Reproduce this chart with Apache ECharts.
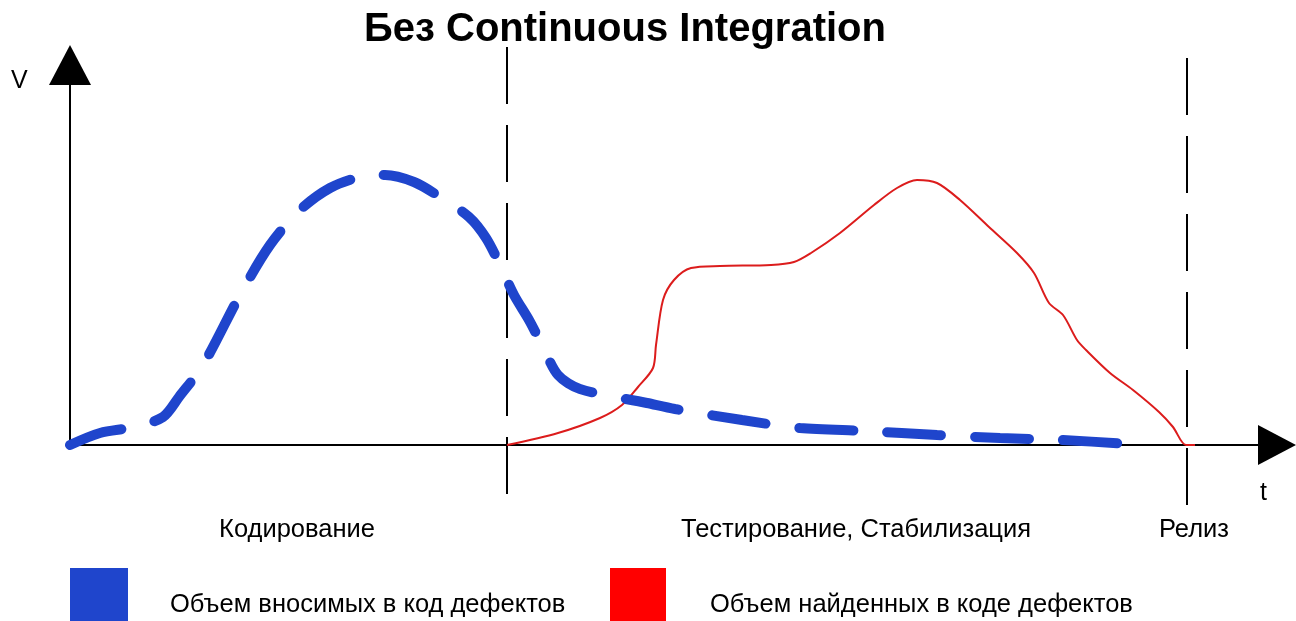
<!DOCTYPE html>
<html lang="ru">
<head>
    <meta charset="UTF-8">
    <title>Без Continuous Integration</title>
    <script src="https://cdn.jsdelivr.net/npm/echarts@6/dist/echarts.min.js"></script>
    <style>
        * { margin: 0; padding: 0; box-sizing: border-box; }
        body { background: #fff; }
        #chart { width: 1296px; height: 621px; }
    </style>
</head>
<body>
    <div id="chart"></div>

    <script>
        // x = время, y = объём (условные единицы)
        const introducedDefects = [
            [0, 0], [30, 12], [64, 18], [93, 28], [109, 48], [133, 80],
            [170, 150], [200, 200], [230, 235], [260, 257], [290, 268], [315, 270],
            [344, 263], [370, 248], [399, 228], [416, 207], [430, 180], [444, 150],
            [459, 125], [473, 98], [488, 70], [510, 56], [577, 42], [605, 36],
            [672, 25], [730, 17], [796, 14], [867, 10], [930, 7], [992, 5], [1060, 1]
        ];
        const foundDefects = [
            [437, 0], [488, 12], [530, 27], [552, 40], [568, 58], [583, 77],
            [586, 100], [593, 145], [604, 165], [621, 177], [650, 179], [701, 180],
            [724, 183], [741, 192], [770, 212], [804, 240], [827, 257], [847, 265],
            [867, 262], [890, 245], [919, 218], [947, 192], [964, 172], [979, 142],
            [993, 130], [1007, 105], [1016, 95], [1040, 72], [1063, 55], [1089, 33],
            [1103, 18], [1116, 0], [1125, 0]
        ];
        const codingEnd = [[437, 398], [437, -50]];
        const releaseLine = [[1117, 387], [1117, -65]];
        const phaseNames = ['Кодирование', 'Тестирование, Стабилизация', 'Релиз'];
        const phaseCenters = [227, 786, 1124];
        const seriesNames = ['Объем вносимых в код дефектов', 'Объем найденных в коде дефектов'];

        const chart = echarts.init(document.getElementById('chart'));

        const phaseData = phaseNames.map(function (name, i) {
            return { value: [phaseCenters[i], -85], name: name };
        });

        const boundaryStyle = { color: '#000', width: 2, type: [57, 21] };
        const font = 'Liberation Sans';

        chart.setOption({
            animation: false,
            title: {
                text: 'Без Continuous Integration',
                left: 364,
                top: 10,
                padding: 0,
                textStyle: {
                    fontFamily: font,
                    fontWeight: 'bold',
                    fontSize: 40,
                    color: '#000'
                }
            },
            grid: { left: 70, right: 19, top: 65, bottom: 176 },
            xAxis: {
                type: 'value',
                min: 0,
                max: 1207,
                axisLine: {
                    lineStyle: { color: '#000', width: 2 },
                    symbol: ['none', 'triangle'],
                    symbolSize: [40, 38]
                },
                axisTick: { show: false },
                axisLabel: { show: false },
                splitLine: { show: false }
            },
            yAxis: {
                type: 'value',
                min: 0,
                max: 380,
                axisLine: {
                    show: true,
                    lineStyle: { color: '#000', width: 2 },
                    symbol: ['none', 'triangle'],
                    symbolSize: [42, 40]
                },
                axisTick: { show: false },
                axisLabel: { show: false },
                splitLine: { show: false }
            },
            legend: [
                {
                    data: [{ name: seriesNames[0], itemStyle: { color: '#1f45cc' } }],
                    left: 70, top: 568, padding: 0,
                    icon: 'rect', itemWidth: 58, itemHeight: 74,
                    itemStyle: { borderWidth: 0 },
                    textStyle: { fontFamily: font, fontSize: 25.5, color: '#000', padding: [0, 0, 0, 37] }
                },
                {
                    data: [{ name: seriesNames[1], itemStyle: { color: '#ff0000' } }],
                    left: 610, top: 568, padding: 0,
                    icon: 'rect', itemWidth: 56, itemHeight: 74,
                    itemStyle: { borderWidth: 0 },
                    textStyle: { fontFamily: font, fontSize: 25.5, color: '#000', padding: [0, 0, 0, 39] }
                }
            ],
            graphic: [
                { type: 'text', left: 11, top: 69, style: { text: 'V', fontFamily: font, fontSize: 25, fill: '#000' } },
                { type: 'text', left: 1260, top: 481, style: { text: 't', fontFamily: font, fontSize: 25, fill: '#000' } }
            ],
            series: [
                {
                    name: 'coding-end',
                    type: 'line',
                    data: codingEnd,
                    symbol: 'none',
                    clip: false,
                    silent: true,
                    lineStyle: boundaryStyle
                },
                {
                    name: 'release',
                    type: 'line',
                    data: releaseLine,
                    symbol: 'none',
                    clip: false,
                    silent: true,
                    lineStyle: boundaryStyle
                },
                {
                    name: seriesNames[1],
                    type: 'line',
                    data: foundDefects,
                    symbol: 'none',
                    smooth: 0.3,
                    color: '#dc1c1c',
                    lineStyle: { color: '#dc1c1c', width: 2 }
                },
                {
                    name: seriesNames[0],
                    type: 'line',
                    data: introducedDefects,
                    symbol: 'none',
                    smooth: 0.3,
                    color: '#1f45cc',
                    lineStyle: { color: '#1f45cc', width: 10, type: [54, 34], cap: 'round' }
                },
                {
                    name: 'phases',
                    type: 'scatter',
                    data: phaseData,
                    symbolSize: 0,
                    clip: false,
                    silent: true,
                    itemStyle: { opacity: 1 },
                    label: {
                        show: true,
                        position: 'inside',
                        formatter: '{b}',
                        fontFamily: font,
                        fontSize: 25.5,
                        color: '#000',
                        textBorderWidth: 0
                    }
                }
            ]
        });
    </script>
</body>
</html>
